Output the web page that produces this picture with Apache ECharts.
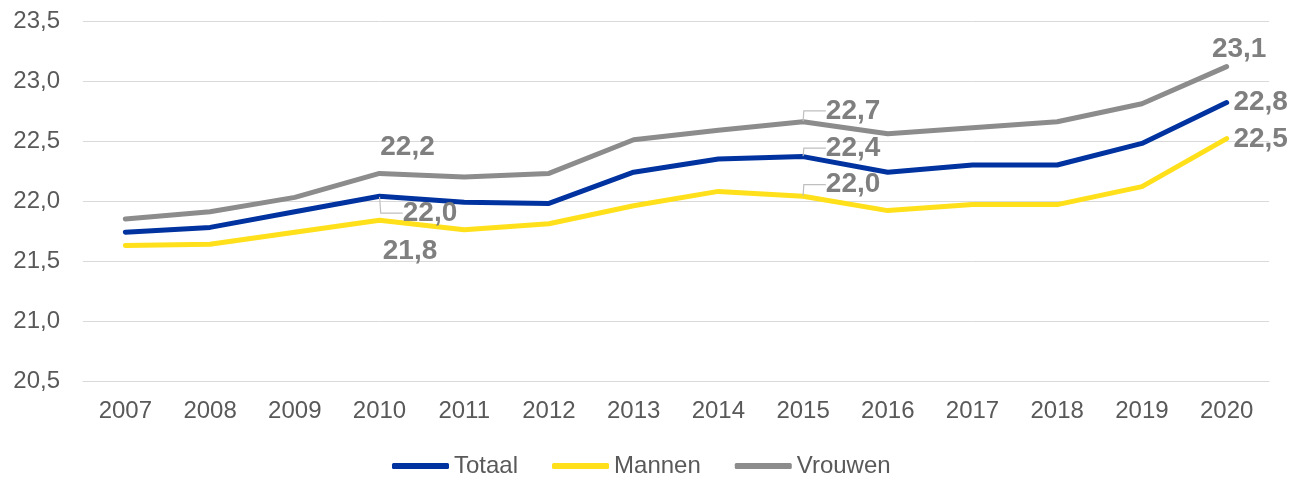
<!DOCTYPE html>
<html><head><meta charset="utf-8">
<script src="https://cdn.jsdelivr.net/npm/echarts@6/dist/echarts.min.js"></script>
<style>html,body{margin:0;padding:0;background:#fff}#c{width:1302px;height:479px}</style>
</head><body><div id="c"></div>
<script>
const years = ['2007','2008','2009','2010','2011','2012','2013','2014','2015','2016','2017','2018','2019','2020'];
const totaal  = [21.74,21.78,21.91,22.04,21.99,21.98,22.24,22.35,22.37,22.24,22.30,22.30,22.48,22.82];
const mannen  = [21.63,21.64,21.74,21.84,21.76,21.81,21.96,22.08,22.04,21.92,21.97,21.97,22.12,22.52];
const vrouwen = [21.85,21.91,22.03,22.23,22.20,22.23,22.51,22.59,22.66,22.56,22.61,22.66,22.81,23.12];
const labelledYears = ['2010','2015','2020'];

// label offsets (series order: totaal, mannen, vrouwen) keyed by year
const labelOffsets = {
  '0-2010':[45.5,17], '0-2015':[45,-8.5], '0-2020':[34,0],
  '1-2010':[30.5,31.5], '1-2015':[45,-11.5], '1-2020':[34,1],
  '2-2010':[28,-26.5], '2-2015':[45,-11], '2-2020':[12.5,-17]
};
const leaders = {'0-2010':true,'0-2015':true,'1-2015':true,'2-2015':true};
const fmt = v => v.toFixed(1).replace('.', ',');
const FONT = 'Liberation Sans, Arial, sans-serif';

function build(values, si){
  return values.map((v,i)=>{
    const y = years[i];
    if(labelledYears.indexOf(y) < 0) return v;
    const key = si+'-'+y;
    const lead = !!leaders[key];
    return {
      value: v,
      label: {show:true, padding: lead ? [0,0,0,10] : 0},
      labelLine: {show: lead, lineStyle:{color:'#BFBFBF', width:1.2}, length2: 22, minTurnAngle: 0}
    };
  });
}
const names = ['Totaal','Mannen','Vrouwen'];
const colors = ['#0033A0','#FFE01A','#8C8C8C'];
const seriesData = [totaal, mannen, vrouwen];

const series = seriesData.map((d,si)=>({
  name: names[si],
  type: 'line',
  data: build(d, si),
  symbol: 'circle',
  symbolSize: 1,
  showSymbol: true,
  itemStyle: {color: colors[si]},
  lineStyle: {color: colors[si], width: 5, cap:'round', join:'round'},
  label: {
    show: false,
    position: 'inside',
    formatter: p => fmt(p.value),
    color: '#7F7F7F',
    fontFamily: FONT,
    fontWeight: 'bold',
    fontSize: 28
  },
  labelLayout: function(params){
    const key = si + '-' + years[params.dataIndex];
    const o = labelOffsets[key];
    if(!o) return {};
    return {dx: o[0], dy: o[1]};
  },
  z: si===0?4:(si===2?3:2)
}));

const chart = echarts.init(document.getElementById('c'));
chart.setOption({
  animation: false,
  textStyle: {fontFamily: FONT},
  grid: {left: 83, right: 33, top: 21, bottom: 98},
  legend: {
    bottom: 1, left: 392, padding: 0,
    itemWidth: 57, itemHeight: 6, itemGap: 34,
    icon: 'roundRect',
    textStyle: {fontSize: 24, color: '#595959', fontFamily: FONT},
    data: names
  },
  xAxis: {
    type: 'category', data: years, boundaryGap: true,
    axisLine: {show: true, lineStyle: {color: '#D9D9D9', width: 1}},
    axisTick: {show: false},
    axisLabel: {fontSize: 24, color: '#595959', margin: 18}
  },
  yAxis: {
    type: 'value', min: 20.5, max: 23.5, interval: 0.5,
    axisLine: {show: false}, axisTick: {show: false},
    axisLabel: {fontSize: 24, color: '#595959', margin: 23, formatter: v => fmt(v)},
    splitLine: {lineStyle: {color: '#D9D9D9', width: 1}}
  },
  series: series
});
</script></body></html>
